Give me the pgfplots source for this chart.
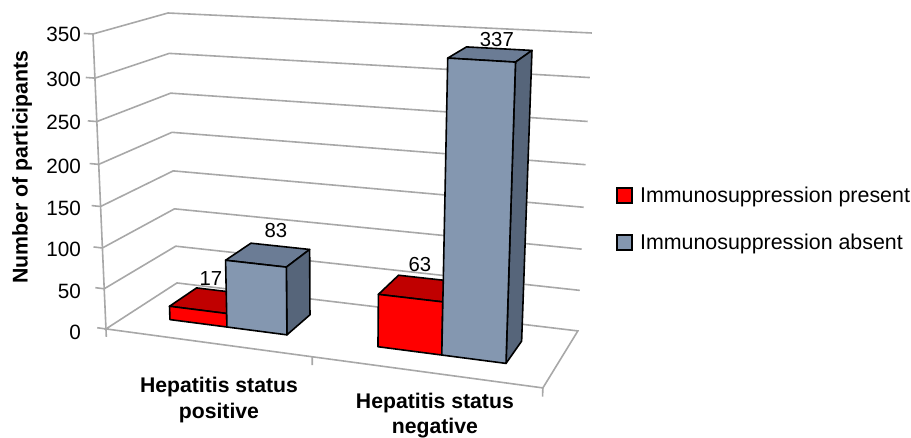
\documentclass[border=0pt]{standalone}
\usepackage{pgfplots}
\pgfplotsset{compat=1.18}
\usepackage{fontspec}
\setmainfont{Liberation Sans}
\definecolor{gridgray}{HTML}{A8A8A8}
\definecolor{redfront}{HTML}{FF0000}
\definecolor{redtop}{HTML}{C00000}
\definecolor{bluefront}{HTML}{8497B0}
\definecolor{bluetop}{HTML}{6B7C95}
\definecolor{blueside}{HTML}{56657A}
\pgfplotsset{/pgfplots/table/proj/.style={/pgfplots/table/x expr={projx(\thisrow{u},\thisrow{v},\thisrow{w})}, /pgfplots/table/y expr={projy(\thisrow{u},\thisrow{v},\thisrow{w})}}}
\newcommand{\gridline}[1]{\addplot[draw=gridgray,line width=1.6bp,forget plot] table[row sep=\\,proj]{u v w\\ -0.02 0 #1\\ 0 0 #1\\ 0 1 #1\\ 1 1 #1\\};}
\newcommand{\face}[2]{\addplot[draw=black,line width=1.6bp,line join=round,fill=#1,forget plot] table[row sep=\\,proj]{u v w\\ #2} -- cycle;}
% \threedbar{u0}{u1}{value}{front}{top}{side}
\newcommand{\threedbar}[6]{%
  \face{#5}{#1 0.32 #3\\ #2 0.32 #3\\ #2 0.72 #3\\ #1 0.72 #3\\}
  \face{#6}{#2 0.32 0\\ #2 0.72 0\\ #2 0.72 #3\\ #2 0.32 #3\\}
  \face{#4}{#1 0.32 0\\ #2 0.32 0\\ #2 0.32 #3\\ #1 0.32 #3\\}
}
\begin{document}
\begin{tikzpicture}
\begin{axis}[
  scale only axis, width=911bp, height=437bp,
  xmin=0, xmax=911, ymin=0, ymax=437, y dir=reverse,
  hide axis, clip=false,
  declare function={
    wfrac(\w)=\w/350-0.055*(\w/350)*(1-\w/350);
    projx(\u,\v,\w)=(1-\v)*(106+437*\u)+\v*(177+401*\u)+((1-\v)*(-13+25*\u)+\v*(-9+23*\u))*wfrac(\w);
    projy(\u,\v,\w)=(1-\v)*(329+59*\u)+\v*(283+48*\u)+((1-\v)*(-295-31*\u)+\v*(-270-28*\u))*wfrac(\w);
  },
  legend image code/.code={\draw[#1,line width=1.6bp] (0bp,-7.5bp) rectangle (15bp,7.5bp); \path (22bp,0bp);},
  legend cell align=left,
  legend style={at={(axis cs:616,219)},anchor=west,draw=none,fill=none,
    font=\fontsize{21.4bp}{24bp}\selectfont,row sep=28bp,inner sep=0pt,
    nodes={inner sep=1bp}},
]
\path (axis cs:0,0) rectangle (axis cs:911,437);
% walls and floor
\gridline{350}\gridline{300}\gridline{250}\gridline{200}\gridline{150}\gridline{100}\gridline{50}
\addplot[draw=gridgray,line width=1.6bp,forget plot] table[row sep=\\,proj]{u v w\\ 0 0 0\\ 0 1 0\\ 1 1 0\\ 1 0 0\\} -- cycle;
\addplot[draw=gridgray,line width=1.6bp,forget plot] table[row sep=\\,proj]{u v w\\ -0.02 0 0\\ 0 0 0\\};
\addplot[draw=gridgray,line width=1.6bp,forget plot] table[row sep=\\,proj]{u v w\\ 0 0 -10\\ 0 0 350\\};
\addplot[draw=gridgray,line width=1.6bp,forget plot] table[row sep=\\,proj]{u v w\\ 0.472 0 -10\\ 0.472 0 0\\};
\addplot[draw=gridgray,line width=1.6bp,forget plot] table[row sep=\\,proj]{u v w\\ 1 0 -10\\ 1 0 0\\};
% bars
\threedbar{0.097}{0.231}{17}{redfront}{redtop}{redtop}
\threedbar{0.231}{0.372}{83}{bluefront}{bluetop}{blueside}
\threedbar{0.586}{0.736}{63}{redfront}{redtop}{redtop}
\threedbar{0.736}{0.887}{337}{bluefront}{bluetop}{blueside}
% legend
\addlegendimage{fill=redfront,draw=black}
\addlegendentry{Immunosuppression present}
\addlegendimage{fill=bluefront,draw=black}
\addlegendentry{Immunosuppression absent}
% value labels
\tikzset{lab/.style={font=\fontsize{20.3bp}{22bp}\selectfont,inner sep=0pt,text=black}}
\node[lab] at (axis cs:211,279) {17};
\node[lab] at (axis cs:276,231) {83};
\node[lab] at (axis cs:420,265) {63};
\node[lab] at (axis cs:497,40) {337};
% tick labels
\tikzset{tl/.style={font=\fontsize{20.7bp}{22bp}\selectfont,inner sep=0pt,anchor=east}}
\node[tl] at (axis cs:81,34) {350};
\node[tl] at (axis cs:81,79) {300};
\node[tl] at (axis cs:81,122) {250};
\node[tl] at (axis cs:81,166) {200};
\node[tl] at (axis cs:81,208) {150};
\node[tl] at (axis cs:81,249) {100};
\node[tl] at (axis cs:81,291) {50};
\node[tl] at (axis cs:81,332) {0};
% titles
\node[rotate=90,inner sep=0pt,font=\bfseries\fontsize{21.3bp}{24bp}\selectfont] at (axis cs:22,167) {Number of participants};
\tikzset{cat/.style={inner sep=0pt,font=\bfseries\fontsize{21.2bp}{24bp}\selectfont}}
\node[cat] at (axis cs:219,387) {Hepatitis status};
\node[cat] at (axis cs:219,413) {positive};
\node[cat] at (axis cs:435,403) {Hepatitis status};
\node[cat] at (axis cs:435,428) {negative};
\end{axis}
\end{tikzpicture}
\end{document}
